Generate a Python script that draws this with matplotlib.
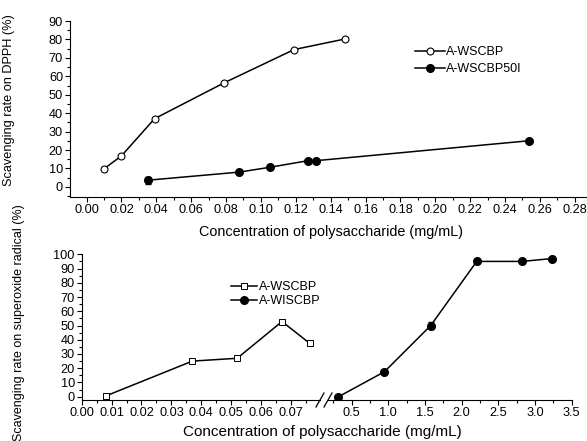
import numpy as np
import matplotlib
matplotlib.use("Agg")
import matplotlib.pyplot as plt
from matplotlib.ticker import MultipleLocator, FormatStrFormatter

plt.rcParams['font.family'] = ['Liberation Sans', 'DejaVu Sans']

# DPPH data
dpph_x_wscbp = [0.010, 0.020, 0.039, 0.079, 0.119, 0.148]
dpph_y_wscbp = [9.8, 16.8, 37.0, 56.5, 74.5, 80.2]
dpph_e_wscbp = [1.0, 0.8, 0.8, 0.8, 0.8, 0.6]
dpph_x_50i = [0.035, 0.0875, 0.105, 0.127, 0.1315, 0.2535]
dpph_y_50i = [3.6, 8.0, 10.6, 14.2, 14.2, 25.0]
dpph_e_50i = [2.0, 0.6, 0.6, 0.5, 0.5, 0.5]

# superoxide data
sup_x_wscbp = [0.008, 0.037, 0.052, 0.067, 0.0763]
sup_y_wscbp = [0.5, 25.0, 27.0, 52.8, 37.4]
sup_e_wscbp = [2.0, 1.5, 1.0, 1.5, 1.5]
sup_x_wiscbp = [0.32, 0.945, 1.578, 2.205, 2.82, 3.23]
sup_y_wiscbp = [0.0, 17.5, 50.0, 95.0, 95.0, 97.0]
sup_e_wiscbp = [0.8, 1.0, 2.5, 1.0, 1.0, 1.0]

xlabel = "Concentration of polysaccharide (mg/mL)"
W, H = 587, 441

fig = plt.figure(figsize=(5.87, 4.41), dpi=100)

def style(ax, fs=9.2):
    ax.spines['top'].set_visible(False)
    ax.spines['right'].set_visible(False)
    ax.tick_params(axis='both', which='major', direction='out', length=3.5, width=0.8, labelsize=fs, pad=1.5)
    ax.tick_params(axis='both', which='minor', direction='out', length=2, width=0.8)
    ax.patch.set_alpha(0)

# top panel
ax1 = fig.add_axes([70/W, 1-197/H, 1-70/W, (197-21)/H])
style(ax1)
ax1.errorbar(dpph_x_wscbp, dpph_y_wscbp, yerr=dpph_e_wscbp, color='black', lw=1.1,
             marker='o', ms=5, mfc='white', mec='black', mew=0.8, capsize=2, elinewidth=0.8,
             label='A-WSCBP')
ax1.errorbar(dpph_x_50i, dpph_y_50i, yerr=dpph_e_50i, color='black', lw=1.1,
             marker='o', ms=5.5, mfc='black', mec='black', capsize=2, elinewidth=0.8,
             label='A-WSCBP50I')
ax1.set_xlim(-0.0095, 0.287)
ax1.set_ylim(-5.5, 90)
ax1.xaxis.set_major_locator(MultipleLocator(0.02))
ax1.xaxis.set_minor_locator(MultipleLocator(0.01))
ax1.xaxis.set_major_formatter(FormatStrFormatter('%.2f'))
ax1.yaxis.set_major_locator(MultipleLocator(10))
ax1.yaxis.set_minor_locator(MultipleLocator(5))
ax1.set_ylabel("Scavenging rate on DPPH (%)", fontsize=9.2)
ax1.yaxis.set_label_coords((15-70)/(W-70), (197-100)/176)
fig.text(331/W, 1-232/H, xlabel, ha='center', va='center', fontsize=10.4)
h, l = ax1.get_legend_handles_labels()
h = [x[0] for x in h]
ax1.legend(h, l, loc='upper left', bbox_to_anchor=((410-70)/(W-70), (197-41)/176), frameon=False,
           fontsize=9, handlelength=2.4, handletextpad=0.1, labelspacing=0.4, borderaxespad=0)

# bottom panel, broken x axis
ax2 = fig.add_axes([81.7/W, 1-400/H, (320-81.7)/W, (400-254.3)/H])
ax3 = fig.add_axes([328/W, 1-400/H, (571.7-328)/W, (400-254.3)/H], sharey=ax2)
style(ax2)
style(ax3)
ax3.spines['left'].set_visible(False)
ax3.tick_params(axis='y', which='both', left=False, labelleft=False)

ax2.errorbar(sup_x_wscbp, sup_y_wscbp, yerr=sup_e_wscbp, color='black', lw=1.1,
             marker='s', ms=5, mfc='white', mec='black', mew=0.7, capsize=2, elinewidth=0.8,
             label='A-WSCBP')
ax3.errorbar(sup_x_wiscbp, sup_y_wiscbp, yerr=sup_e_wiscbp, color='black', lw=1.1,
             marker='o', ms=5.5, mfc='black', mec='black', capsize=2, elinewidth=0.8,
             label='A-WISCBP')
ax2.set_xlim(0, 0.0797)
ax3.set_xlim(0.177, 3.5)
ax2.set_ylim(-2.3, 100)
ax2.xaxis.set_major_locator(MultipleLocator(0.01))
ax2.xaxis.set_minor_locator(MultipleLocator(0.005))
ax2.xaxis.set_major_formatter(FormatStrFormatter('%.2f'))
ax3.xaxis.set_major_locator(MultipleLocator(0.5))
ax3.xaxis.set_minor_locator(MultipleLocator(0.25))
ax3.xaxis.set_major_formatter(FormatStrFormatter('%.1f'))
ax2.yaxis.set_major_locator(MultipleLocator(10))
ax2.yaxis.set_minor_locator(MultipleLocator(5))
ax2.set_ylabel("Scavenging rate on superoxide radical (%)", fontsize=9)
ax2.yaxis.set_label_coords((25-81.7)/(320-81.7), (400-323)/145.7)
fig.text(322/W, 1-432/H, xlabel, ha='center', va='center', fontsize=11)

# break marks
for dx in (-4, 4):
    fig.add_artist(plt.Line2D([(324+dx-4)/W, (324+dx+4)/W], [1-407/H, 1-393/H],
                              color='black', lw=0.9))

h2, l2 = ax2.get_legend_handles_labels()
h3, l3 = ax3.get_legend_handles_labels()
fig.legend([h2[0][0], h3[0][0]], l2 + l3, loc='upper left',
           bbox_to_anchor=(226/W, 1-276/H), frameon=False, fontsize=9,
           handlelength=2.1, handletextpad=0.1, labelspacing=0.2, borderaxespad=0)

fig.savefig("out.png", dpi=100)
